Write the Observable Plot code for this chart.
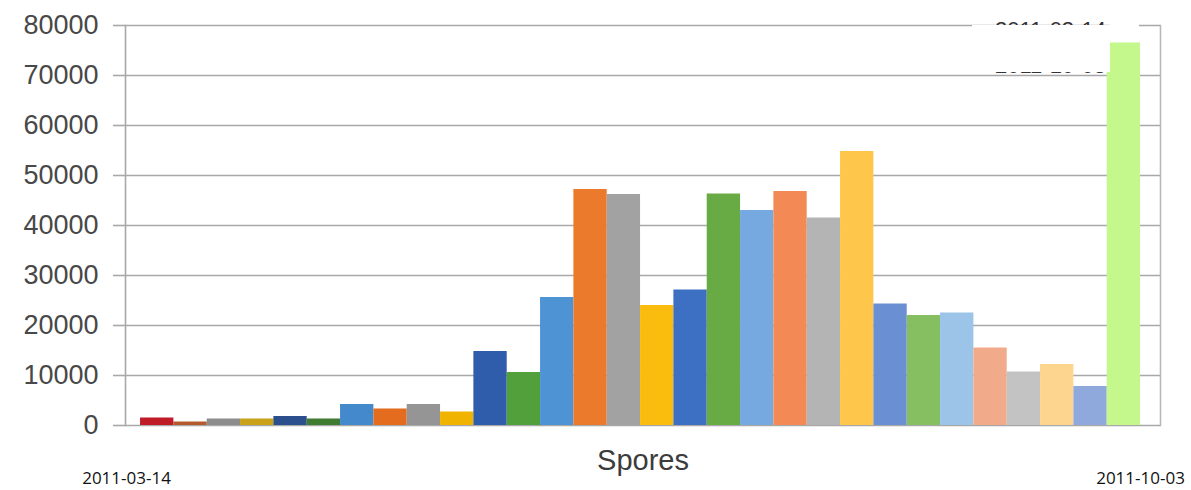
<!DOCTYPE html>
<html>
<head>
<meta charset="utf-8">
<script src="https://cdn.jsdelivr.net/npm/d3@7"></script>
<script src="https://cdn.jsdelivr.net/npm/@observablehq/plot@0.6"></script>
<style>
  html, body { margin: 0; padding: 0; background: #fff; }
  #wrap { position: relative; width: 1191px; height: 490px; overflow: hidden; }
  .leg { position: absolute; font-family: "Liberation Sans", Arial, sans-serif; font-size: 22px; line-height: 25px; color: #333; white-space: nowrap; }
  .box { position: absolute; background: #fff; }
</style>
</head>
<body>
<div id="wrap"></div>
<script>
// Sample index (one bar per sampling date, 2011-03-14 … 2011-10-03)
const samples = d3.range(1, 31).map(String);
// Spore counts
const spores = [
  1500, 700, 1300, 1300, 1800, 1300, 4200, 3300, 4200, 2700,
  14800, 10600, 25600, 47200, 46200, 24000, 27100, 46300, 43000, 46800,
  41500, 54800, 24300, 22000, 22500, 15500, 10700, 12200, 7800, 76500
];
const yTicks = [0, 10000, 20000, 30000, 40000, 50000, 60000, 70000, 80000];
const firstDate = "2011-03-14";
const lastDate = "2011-10-03";
const axisTitle = "Spores";
const legendTop = "2011-03-14";
const legendBottom = "2011-10-03";

const palette = [
  "#c01c28", "#b45a2c", "#8c8c8c", "#c9a21a", "#2b4f8d", "#3f7b30",
  "#4389cc", "#e46c1f", "#959595", "#f0b400", "#2f5cab", "#52a03c",
  "#4e93d3", "#ec7a2c", "#a2a2a2", "#fbbd0d", "#3d6fc2", "#68aa44",
  "#75a9e0", "#f38a55", "#b4b4b4", "#fec64a", "#6a8fd3", "#86bf62",
  "#9cc3e8", "#f1ab8a", "#c3c3c3", "#fdd58e", "#90a9dc", "#c4f78c"
];

const data = samples.map((s, i) => ({sample: s, value: spores[i]}));

const chart = Plot.plot({
  width: 1191,
  height: 490,
  marginTop: 25,
  marginBottom: 65,
  marginLeft: 125,
  marginRight: 31,
  style: {background: "#fff", fontFamily: "'Liberation Sans', Arial, sans-serif"},
  x: {type: "band", domain: samples, paddingInner: 0, paddingOuter: 0.525, align: 0.43, round: false, axis: null},
  y: {domain: [0, 80000], axis: null},
  color: {type: "ordinal", domain: samples, range: palette},
  marks: [
    Plot.ruleY(yTicks, {stroke: "#a8a8a8", strokeWidth: 1.6}),
    Plot.axisY({ticks: yTicks, tickFormat: d => String(d), tickSize: 12, tickPadding: 15,
      fontSize: 27, stroke: "#a8a8a8", strokeWidth: 1.6, color: "#484848", label: null}),
    Plot.barY(data, {x: "sample", y: "value", fill: "sample"}),
    Plot.frame({anchor: "left", stroke: "#a8a8a8", strokeWidth: 1.6}),
    Plot.frame({anchor: "right", stroke: "#b8b8b8", strokeWidth: 1.6}),
    Plot.text([axisTitle], {text: d => d, frameAnchor: "bottom", dy: 44, fontSize: 29, fill: "#3c3c3c"}),
    Plot.text([firstDate], {text: d => d, frameAnchor: "bottom-left", dx: 1, dy: 58, textAnchor: "middle",
      fontSize: 17, fill: "#111", fontFamily: "'Open Sans', sans-serif"}),
    Plot.text([lastDate], {text: d => d, frameAnchor: "bottom-right", dx: -20, dy: 58, textAnchor: "middle",
      fontSize: 17, fill: "#111", fontFamily: "'Open Sans', sans-serif"})
  ]
});
const wrap = document.getElementById("wrap");
wrap.appendChild(chart);

// Legend partly hidden by a white patch, as in the source image
const l1 = document.createElement("div");
l1.className = "leg"; l1.textContent = legendTop;
l1.style.left = "995px"; l1.style.top = "17px";
wrap.appendChild(l1);
const l2 = document.createElement("div");
l2.className = "leg"; l2.textContent = legendBottom;
l2.style.left = "995px"; l2.style.top = "53px";
wrap.appendChild(l2);
const b1 = document.createElement("div");
b1.className = "box";
Object.assign(b1.style, {left: "972px", top: "25px", width: "138px", height: "47px"});
wrap.appendChild(b1);
const b2 = document.createElement("div");
b2.className = "box";
Object.assign(b2.style, {left: "1110px", top: "20px", width: "29px", height: "22px"});
wrap.appendChild(b2);
</script>
</body>
</html>
